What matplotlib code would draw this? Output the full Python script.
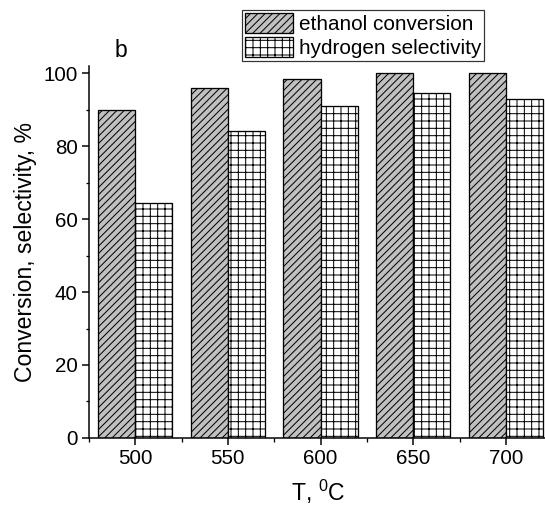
import numpy as np
import matplotlib
matplotlib.use("Agg")
import matplotlib.pyplot as plt
from matplotlib.ticker import MultipleLocator, FixedLocator

# temperatures, degC
temps = [500, 550, 600, 650, 700]
# ethanol conversion and hydrogen selectivity, %
ethanol_conversion = [90.0, 96.0, 98.3, 100.0, 100.0]
hydrogen_selectivity = [64.3, 84.1, 91.0, 94.6, 93.0]

series_labels = ["ethanol conversion", "hydrogen selectivity"]

DPI = 88


def pt(px):
    # pixel size -> points at the output dpi
    return px * 72.0 / DPI


plt.rcParams["font.family"] = ["Liberation Sans", "DejaVu Sans"]
plt.rcParams["mathtext.fontset"] = "custom"
plt.rcParams["mathtext.rm"] = "Liberation Sans"
plt.rcParams["mathtext.it"] = "Liberation Sans"
plt.rcParams["hatch.linewidth"] = pt(1.0)

fig = plt.figure(figsize=(545 / DPI, 511 / DPI), dpi=DPI)
ax = fig.add_axes([0.163, 0.143, 0.84, 0.728])

width = 20
x = np.array(temps, dtype=float)
ax.bar(x - width / 2, ethanol_conversion, width, color="#c0c0c0",
       edgecolor="black", linewidth=pt(1.3), hatch="////", label=series_labels[0])
ax.bar(x + width / 2, hydrogen_selectivity, width, color="white",
       edgecolor="black", linewidth=pt(1.3), hatch="++", label=series_labels[1])

ax.set_xlim(475, 722)
ax.set_ylim(0, 102)
ax.set_xticks(temps)
ax.xaxis.set_minor_locator(FixedLocator([475, 525, 575, 625, 675]))
ax.yaxis.set_major_locator(MultipleLocator(20))
ax.yaxis.set_minor_locator(MultipleLocator(10))

for side in ["top", "right"]:
    ax.spines[side].set_visible(False)
for side in ["left", "bottom"]:
    ax.spines[side].set_linewidth(pt(1.5))

ax.tick_params(which="major", direction="out", length=pt(7), width=pt(1.5),
               labelsize=pt(20.5), pad=pt(4))
ax.tick_params(which="minor", direction="out", length=pt(3.5), width=pt(1.3))

ax.set_xlabel("T, $^{0}$C", fontsize=pt(23), labelpad=pt(10))
ax.set_ylabel("Conversion, selectivity, %", fontsize=pt(23), labelpad=pt(6))

ax.text(0.071, 1.025, "b", transform=ax.transAxes, fontsize=pt(23),
        ha="center", va="baseline")

leg = fig.legend(loc="upper left", bbox_to_anchor=(0.4435, 0.9804), fontsize=pt(20.8),
                 frameon=True, fancybox=False, edgecolor="black",
                 borderpad=0.15, handlelength=2.3, handleheight=1.1,
                 handletextpad=0.3, labelspacing=0.15, borderaxespad=0)
leg.get_frame().set_linewidth(pt(1.2))

fig.savefig("out.png", dpi=DPI)
